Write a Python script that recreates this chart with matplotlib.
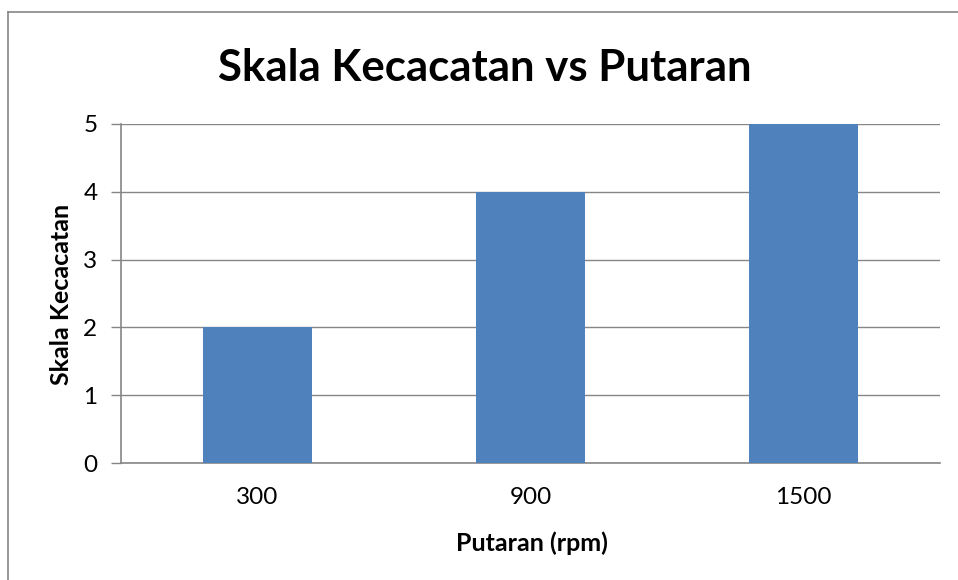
import matplotlib
matplotlib.use("Agg")
import matplotlib.pyplot as plt
from matplotlib.lines import Line2D

categories = ["300", "900", "1500"]
values = [2, 4, 5]
yticks = [0, 1, 2, 3, 4, 5]

plt.rcParams['font.family'] = ['Lato', 'DejaVu Sans']

W, H = 958, 580
fig = plt.figure(figsize=(W/100, H/100), dpi=100)
ax = fig.add_axes([121/W, 1-463/H, (940-121)/W, (463-124)/H])

x = list(range(len(categories)))
ax.bar(x, values, width=0.4, color="#4F81BD", zorder=3)
ax.set_xlim(-0.5, len(categories)-0.5)
ax.set_ylim(0, 5)
ax.set_yticks(yticks)
ax.set_xticks(x)
ax.set_xticklabels(categories)
ax.yaxis.grid(True, color="#868686", linewidth=1)
ax.set_axisbelow(True)
for s in ["top", "right"]:
    ax.spines[s].set_visible(False)
for s in ["left", "bottom"]:
    ax.spines[s].set_color("#868686")
    ax.spines[s].set_linewidth(1.2)
ax.tick_params(axis="y", length=7, color="#868686", width=1, labelsize=17.5, pad=10)
ax.tick_params(axis="x", length=0, labelsize=17.5, pad=17)

fig.text(485/W, 1-68/H, "Skala Kecacatan vs Putaran", fontsize=31.5, fontweight="bold",
         ha="center", va="center")
fig.text(62/W, 1-294/H, "Skala Kecacatan", fontsize=18, fontweight="bold",
         ha="center", va="center", rotation=90)
fig.text(532/W, 1-543/H, "Putaran (rpm)", fontsize=18, fontweight="bold",
         ha="center", va="center")

fig.add_artist(Line2D([8/W, 8/W], [0, 1-12/H], transform=fig.transFigure,
                      color="#868686", linewidth=1.2))
fig.add_artist(Line2D([8/W, 1], [1-12/H, 1-12/H], transform=fig.transFigure,
                      color="#868686", linewidth=1.2))

fig.savefig("out.png", dpi=100)
